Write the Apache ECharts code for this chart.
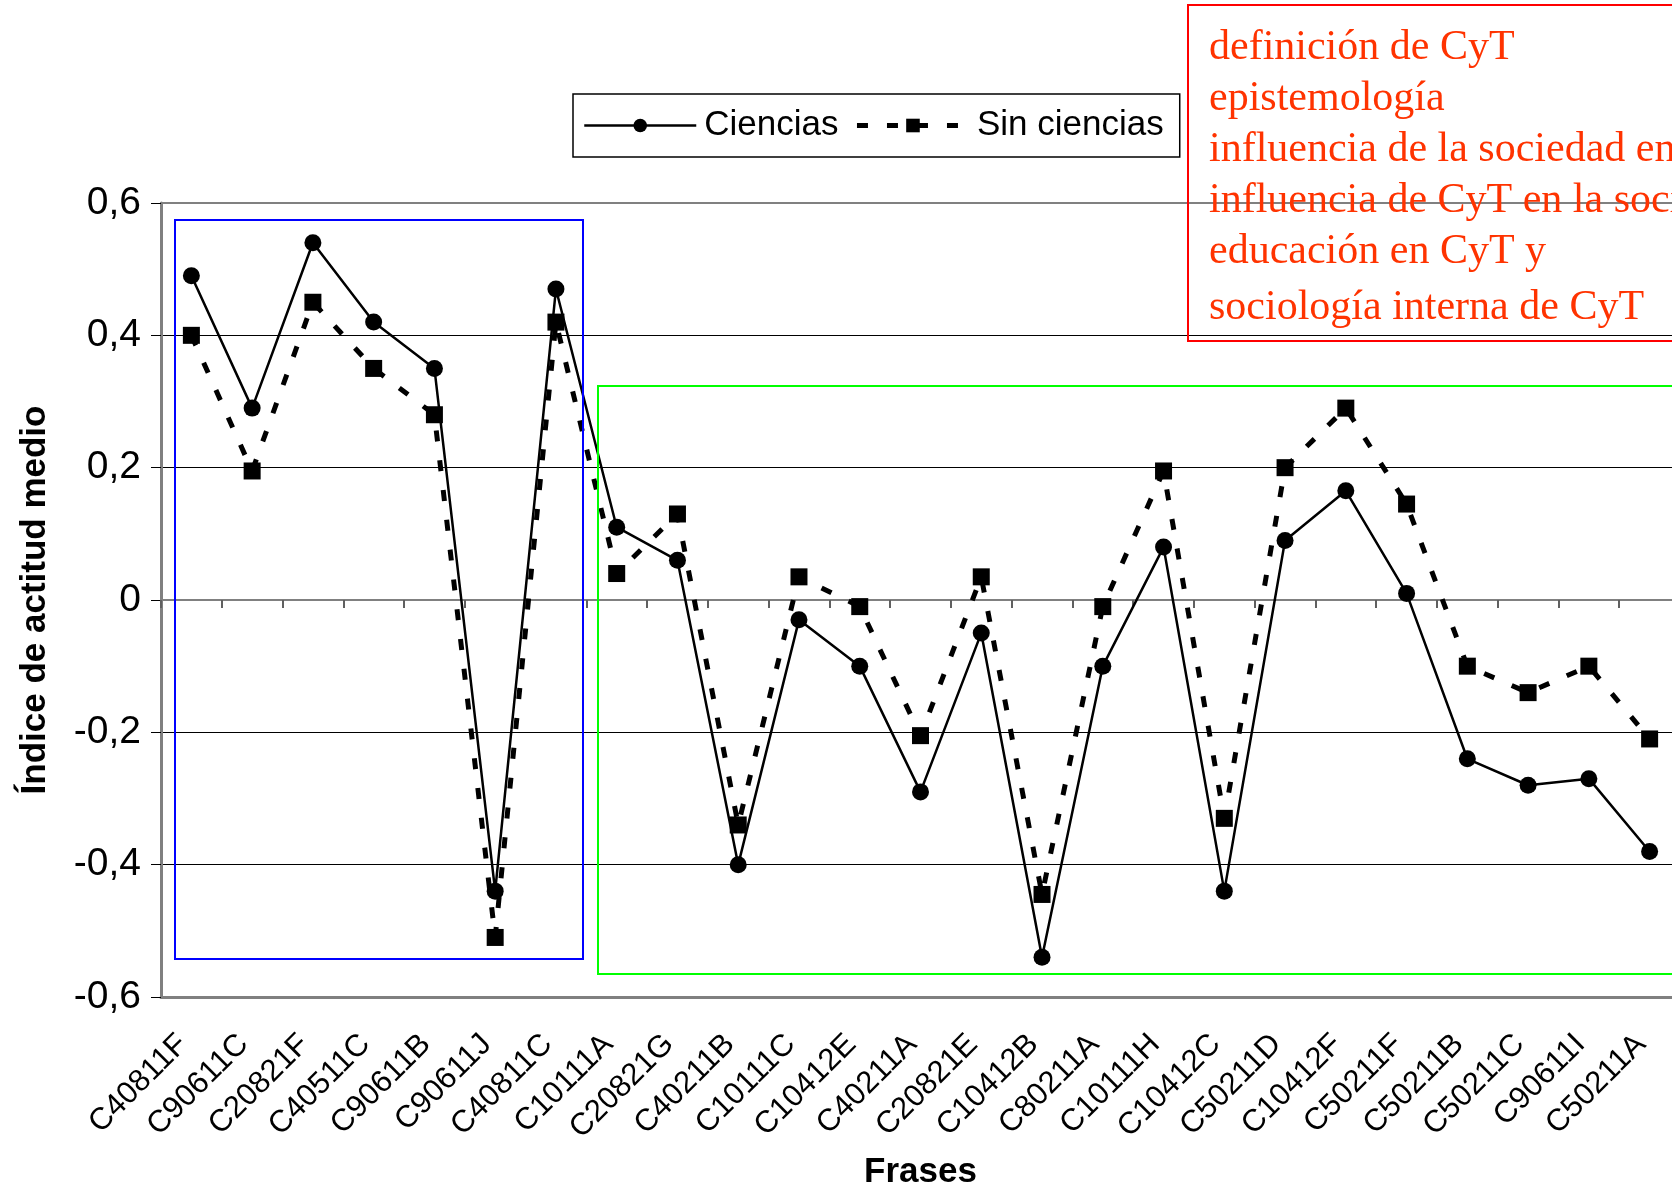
<!DOCTYPE html>
<html>
<head>
<meta charset="utf-8">
<script src="https://cdn.jsdelivr.net/npm/echarts@6/dist/echarts.min.js"></script>
<style>
html,body{margin:0;padding:0;background:#fff;}
#chart{width:1672px;height:1191px;}
</style>
</head>
<body>
<div id="chart"></div>
<script>
var categories = ['C40811F','C90611C','C20821F','C40511C','C90611B','C90611J','C40811C','C10111A','C20821G','C40211B','C10111C','C10412E','C40211A','C20821E','C10412B','C80211A','C10111H','C10412C','C50211D','C10412F','C50211F','C50211B','C50211C','C90611I','C50211A'];
var ciencias = [0.49, 0.29, 0.54, 0.42, 0.35, -0.44, 0.47, 0.11, 0.06, -0.40, -0.03, -0.10, -0.29, -0.05, -0.54, -0.10, 0.08, -0.44, 0.09, 0.165, 0.01, -0.24, -0.28, -0.27, -0.38];
var sinCiencias = [0.40, 0.195, 0.45, 0.35, 0.28, -0.51, 0.42, 0.04, 0.13, -0.34, 0.035, -0.01, -0.205, 0.035, -0.445, -0.01, 0.195, -0.33, 0.20, 0.29, 0.145, -0.10, -0.14, -0.10, -0.21];
var seriesNames = ['Ciencias', 'Sin ciencias'];
var axisTitles = { x: 'Frases', y: 'Índice de actitud medio' };
var noteLines = ['definición de CyT', 'epistemología', 'influencia de la sociedad en', 'influencia de CyT en la sociedad', 'educación en CyT y', 'sociología interna de CyT'];

var FONT = "'Liberation Sans', Arial, sans-serif";
var chart = echarts.init(document.getElementById('chart'), null, {renderer: 'canvas'});

var noteY = [48, 99, 150, 201, 252, 308];
var graphics = [
  {type: 'rect', z: 100, shape: {x: 175, y: 220, width: 408, height: 739}, style: {fill: 'none', stroke: '#0000ff', lineWidth: 2}},
  {type: 'rect', z: 100, shape: {x: 598, y: 386, width: 1090, height: 588}, style: {fill: 'none', stroke: '#00ff00', lineWidth: 2}},
  {type: 'rect', z: 100, shape: {x: 1188, y: 5, width: 520, height: 336}, style: {fill: 'none', stroke: '#ff0000', lineWidth: 2}}
];
noteLines.forEach(function (t, i) {
  graphics.push({type: 'text', z: 101, x: 1209, y: noteY[i], style: {text: t, fill: '#ff3300', font: "42px 'Liberation Serif', 'Times New Roman', serif", verticalAlign: 'middle', align: 'left'}});
});

chart.setOption({
  animation: false,
  backgroundColor: '#fff',
  graphic: graphics,
  legend: {
    left: 573, top: 94,
    orient: 'horizontal',
    itemWidth: 112, itemHeight: 17, itemGap: 16,
    padding: [14, 16, 14, 10],
    borderColor: '#000', borderWidth: 1.5,
    textStyle: {fontFamily: FONT, fontSize: 35, color: '#000', padding: [0, 0, 0, 3]},
    data: [
      {name: seriesNames[0], lineStyle: {width: 2.5, type: 'solid', color: '#000'}},
      {name: seriesNames[1], lineStyle: {width: 5, type: [11, 19], color: '#000'}}
    ]
  },
  grid: {left: 161, right: -8, top: 203, bottom: 194, outerBoundsMode: 'none', containLabel: false},
  xAxis: [
    {
      type: 'category', data: categories, position: 'bottom', boundaryGap: true,
      axisLine: {onZero: false, lineStyle: {color: '#808080', width: 3}},
      axisTick: {show: false},
      axisLabel: {rotate: 45, margin: 34, interval: 0, fontFamily: FONT, fontSize: 31, color: '#000', padding: [0, 12, 0, 0]},
      name: axisTitles.x, nameLocation: 'middle', nameGap: 158,
      nameTextStyle: {fontFamily: FONT, fontSize: 35, fontWeight: 'bold', color: '#000'},
      splitLine: {show: false}
    },
    {
      type: 'category', data: categories, position: 'bottom', boundaryGap: true,
      axisLine: {onZero: true, lineStyle: {color: '#808080', width: 2}},
      axisTick: {show: true, interval: 0, length: 8, lineStyle: {color: '#606060', width: 2}},
      axisLabel: {show: false, interval: 0}, splitLine: {show: false}
    },
    {
      type: 'category', data: categories, position: 'top', boundaryGap: true,
      axisLine: {onZero: false, lineStyle: {color: '#808080', width: 2}},
      axisTick: {show: false}, axisLabel: {show: false}, splitLine: {show: false}
    }
  ],
  yAxis: {
    type: 'value', min: -0.6, max: 0.6, interval: 0.2,
    axisLine: {show: true, lineStyle: {color: '#808080', width: 3}},
    axisTick: {show: true, length: 10, lineStyle: {color: '#000', width: 1}},
    axisLabel: {
      margin: 20, fontFamily: FONT, fontSize: 39, color: '#000',
      formatter: function (v) {
        var r = Math.round(v * 10) / 10;
        if (r === 0) return '0';
        return r.toFixed(1).replace('.', ',');
      }
    },
    splitLine: {show: true, lineStyle: {color: '#000', width: 1}},
    name: axisTitles.y, nameLocation: 'middle', nameGap: 108, nameRotate: 90,
    nameTextStyle: {fontFamily: FONT, fontSize: 35, fontWeight: 'bold', color: '#000'}
  },
  series: [
    {
      name: seriesNames[0], type: 'line', xAxisIndex: 0, data: ciencias,
      symbol: 'circle', symbolSize: 17,
      itemStyle: {color: '#000'},
      lineStyle: {color: '#000', width: 2.5, type: 'solid'},
      z: 4
    },
    {
      name: seriesNames[1], type: 'line', xAxisIndex: 0, data: sinCiencias,
      symbol: 'rect', symbolSize: 17,
      itemStyle: {color: '#000'},
      lineStyle: {color: '#000', width: 5, type: [11, 19]},
      z: 3
    }
  ]
});
</script>
</body>
</html>
